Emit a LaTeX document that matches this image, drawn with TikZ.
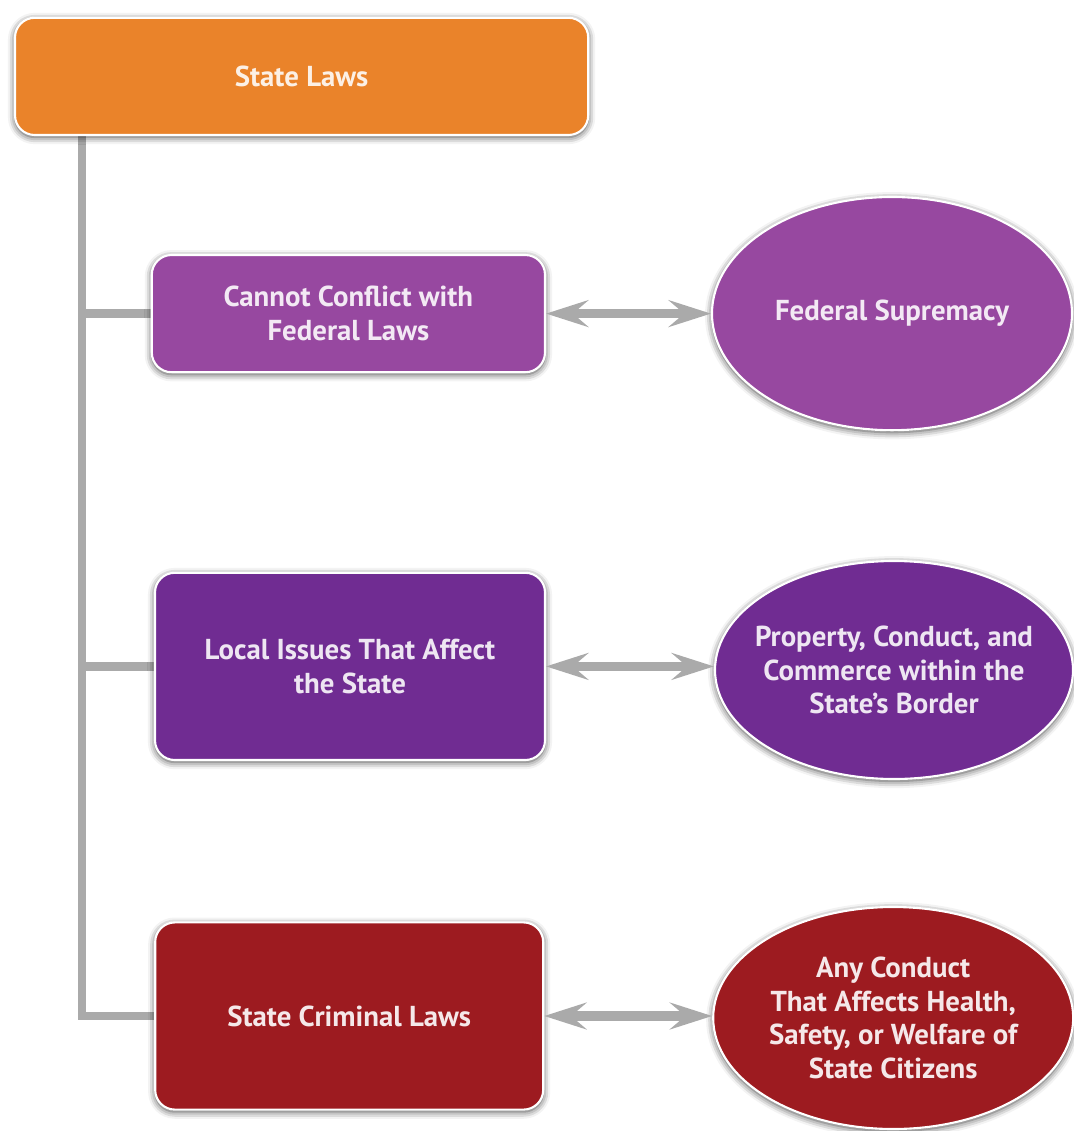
\documentclass[tikz,border=0pt]{standalone}
\usepackage{fontspec}
\setmainfont{PT Sans}
\usepackage{tikz}
\usetikzlibrary{shapes.geometric,arrows.meta,positioning,backgrounds,shadows.blur}
\definecolor{lawOrange}{RGB}{234,131,42}
\definecolor{lawPurpleA}{RGB}{151,72,160}
\definecolor{lawPurpleB}{RGB}{112,44,146}
\definecolor{lawRed}{RGB}{157,27,32}
\definecolor{lawGray}{RGB}{170,170,170}
\newcommand{\lawfont}{\fontsize{20.5}{23.8}\selectfont\bfseries}

\begin{document}
\begin{tikzpicture}[
              lawbox/.style={draw=white, line width=1.5pt, rounded corners=14pt,
                             align=center, font=\lawfont, inner sep=0pt,
                             blur shadow={shadow xshift=0pt, shadow yshift=-1.5pt,
                                          shadow blur radius=5pt, shadow opacity=75}},
              lawell/.style={lawbox, ellipse, rounded corners=0pt, inner sep=-1.5cm},
              trunkline/.style={lawGray, line width=6pt},
              bidir/.style={lawGray, line width=6.5pt,
                            {Stealth[length=30pt, width=19pt, inset=11pt]}-{Stealth[length=30pt, width=19pt, inset=11pt]}},
             ]
\useasboundingbox (0,0) rectangle (26.85,-28.275);

% left column
\node[lawbox, fill=lawOrange, text=white!88!lawOrange,
      minimum width=14.33cm, minimum height=2.93cm] (state) at (7.54,-1.91) {State Laws};
\node[lawbox, fill=lawPurpleA, text=white!88!lawPurpleA,
      minimum width=9.83cm, minimum height=2.93cm] (conflict) at (8.71,-7.84)
      {Cannot Conflict with\\Federal Laws};
\node[lawbox, fill=lawPurpleB, text=white!88!lawPurpleB,
      minimum width=9.75cm, minimum height=4.68cm] (local) at (8.75,-16.66)
      {Local Issues That Affect\\the State};
\node[lawbox, fill=lawRed, text=white!90!lawRed,
      minimum width=9.7cm, minimum height=4.68cm] (crim) at (8.73,-25.4)
      {State Criminal Laws};

% right column
\node[lawell, fill=lawPurpleA, text=white!88!lawPurpleA,
      minimum width=9cm, minimum height=5.83cm] (federal) at (22.3,-7.84)
      {Federal Supremacy};
\node[lawell, fill=lawPurpleB, text=white!88!lawPurpleB,
      minimum width=8.95cm, minimum height=5.45cm] (property) at (22.35,-16.75)
      {Property, Conduct, and\\Commerce within the\\State's Border};
\node[lawell, fill=lawRed, text=white!90!lawRed,
      minimum width=9cm, minimum height=5.55cm] (conduct) at (22.33,-25.45)
      {Any Conduct\\That Affects Health,\\Safety, or Welfare of\\State Citizens};

% tree lines
\coordinate (trunk) at (2.05,0);
\begin{scope}[on background layer]
\draw[trunkline] (state.south -| trunk) |- (crim.west);
\draw[trunkline] (trunk |- conflict.west) -- (conflict.west);
\draw[trunkline] (trunk |- local.west) -- (local.west);
\end{scope}

% double arrows
\draw[bidir] (conflict.east) -- (conflict.east -| federal.west);
\draw[bidir] (local.east) -- (local.east -| property.west);
\draw[bidir] (crim.east) -- (crim.east -| conduct.west);
\end{tikzpicture}
\end{document}
